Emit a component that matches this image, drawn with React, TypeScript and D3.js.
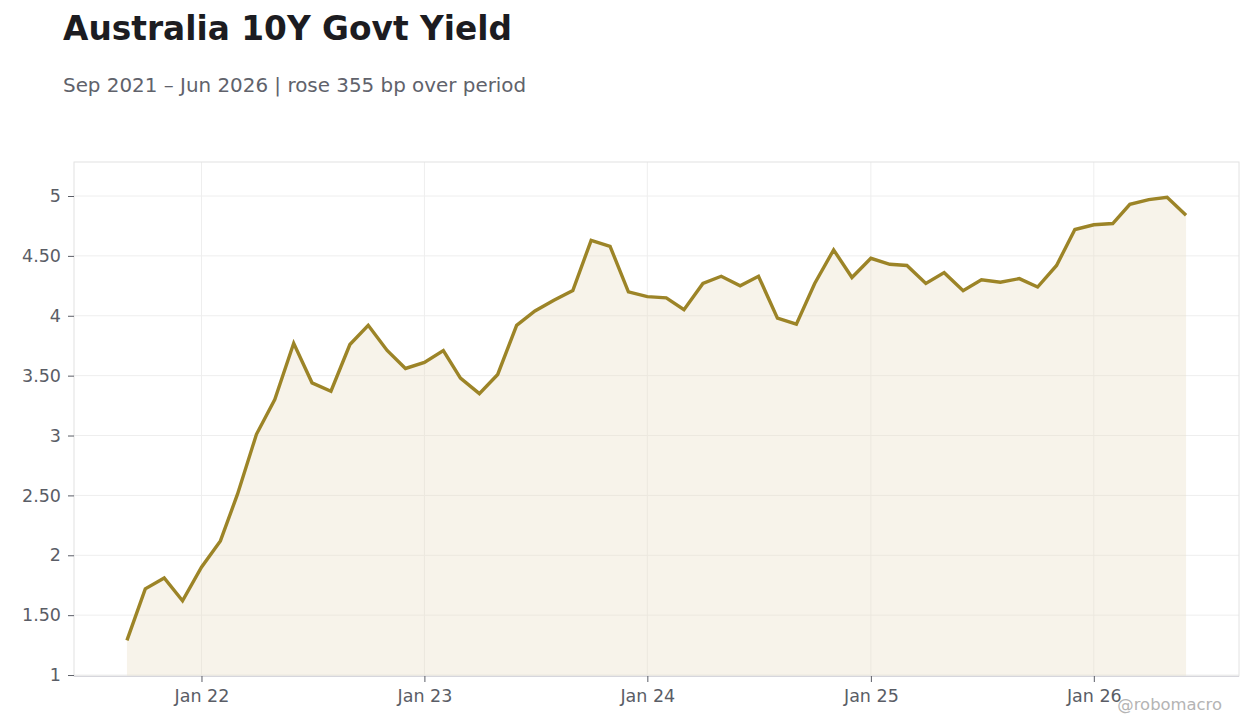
import * as d3 from "d3";
import { useEffect, useRef } from "react";

// monthly closes, Sep 2021 .. Jun 2026
const startMonth = "2021-09";
const yields = [
    1.29, 1.72, 1.81, 1.62, 1.90, 2.12, 2.51, 3.01, 3.30, 3.77, 3.44, 3.37,
    3.76, 3.92, 3.71, 3.56, 3.61, 3.71, 3.48, 3.35, 3.51, 3.92, 4.04, 4.13,
    4.21, 4.63, 4.58, 4.20, 4.16, 4.15, 4.05, 4.27, 4.33, 4.25, 4.33, 3.98,
    3.93, 4.27, 4.55, 4.32, 4.48, 4.43, 4.42, 4.27, 4.36, 4.21, 4.30, 4.28,
    4.31, 4.24, 4.42, 4.72, 4.76, 4.77, 4.93, 4.97, 4.99, 4.84,
];
const yTicks = [1, 1.5, 2, 2.5, 3, 3.5, 4, 4.5, 5];
const xTickLabels = ["Jan 22", "Jan 23", "Jan 24", "Jan 25", "Jan 26"];

const title = "Australia 10Y Govt Yield";
const subtitle = "Sep 2021 – Jun 2026 | rose 355 bp over period";
const credit = "@robomacro";

const FONT = "DejaVu Sans, sans-serif";
const LINE = "#9c8427";

export default function App() {
    const svgRef = useRef<SVGSVGElement | null>(null);

    useEffect(() => {
        if (!svgRef.current) return;
        const svg = d3.select(svgRef.current);
        svg.selectAll("*").remove();

        const totalW = 1260;
        const totalH = 728;
        const left = 74, right = 1239, top = 162, bottom = 676;

        const parseMonth = d3.timeParse("%Y-%m");
        const start = parseMonth(startMonth)!;
        const dates = yields.map((_, i) => d3.timeMonth.offset(start, i));
        const data = yields.map((v, i) => ({ date: dates[i], v }));

        const [d0, d1] = d3.extent(dates) as [Date, Date];
        const span = +d1 - +d0;
        const x = d3
            .scaleTime()
            .domain([new Date(+d0 - span * 0.05), new Date(+d1 + span * 0.05)])
            .range([left, right]);
        const y = d3.scaleLinear().domain([0.992, 5.284]).range([bottom, top]);

        svg.append("rect")
            .attr("width", totalW)
            .attr("height", totalH)
            .attr("fill", "#ffffff");

        // title block
        svg.append("text")
            .attr("x", 63)
            .attr("y", 40)
            .attr("font-family", FONT)
            .attr("font-weight", "bold")
            .attr("font-size", 32.8)
            .attr("fill", "#1c1c21")
            .text(title);
        svg.append("text")
            .attr("x", 63)
            .attr("y", 92)
            .attr("font-family", FONT)
            .attr("font-size", 19.9)
            .attr("fill", "#60626b")
            .text(subtitle);

        // grid
        const janTicks = d3.timeYear.range(new Date(2022, 0, 1), new Date(2026, 1, 1));
        svg.append("g")
            .selectAll("line")
            .data(yTicks)
            .join("line")
            .attr("x1", left)
            .attr("x2", right)
            .attr("y1", (d) => y(d))
            .attr("y2", (d) => y(d))
            .attr("stroke", "#eeeeee")
            .attr("stroke-width", 1);
        svg.append("g")
            .selectAll("line")
            .data(janTicks)
            .join("line")
            .attr("x1", (d) => x(d))
            .attr("x2", (d) => x(d))
            .attr("y1", top)
            .attr("y2", bottom)
            .attr("stroke", "#eeeeee")
            .attr("stroke-width", 1);

        // area + line
        const area = d3
            .area<{ date: Date; v: number }>()
            .x((d) => x(d.date))
            .y0(bottom)
            .y1((d) => y(d.v));
        svg.append("path")
            .datum(data)
            .attr("fill", "#e8dcc4")
            .attr("opacity", 0.35)
            .attr("d", area);

        const line = d3
            .line<{ date: Date; v: number }>()
            .x((d) => x(d.date))
            .y((d) => y(d.v));
        svg.append("path")
            .datum(data)
            .attr("fill", "none")
            .attr("stroke", LINE)
            .attr("stroke-width", 3.4)
            .attr("stroke-linejoin", "miter")
            .attr("d", line);

        // frame
        svg.append("rect")
            .attr("x", left)
            .attr("y", top)
            .attr("width", right - left)
            .attr("height", bottom - top)
            .attr("fill", "none")
            .attr("stroke", "#e2e2e2")
            .attr("stroke-width", 1);

        // axes
        const yAxis = svg
            .append("g")
            .attr("transform", `translate(${left},0)`)
            .call(
                d3.axisLeft(y)
                    .tickValues(yTicks)
                    .tickSize(6)
                    .tickPadding(7)
                    .tickFormat((d) => {
                        const n = +d;
                        return Number.isInteger(n) ? `${n}` : n.toFixed(2);
                    })
            );
        yAxis.select(".domain").remove();

        const xAxis = svg
            .append("g")
            .attr("transform", `translate(0,${bottom})`)
            .call(
                d3.axisBottom(x)
                    .tickValues(janTicks)
                    .tickSize(6)
                    .tickPadding(8)
                    .tickFormat((_, i) => xTickLabels[i])
            );
        xAxis.select(".domain").attr("stroke", "#d6d6dc").attr("d", `M${left},0.5H${right}`);

        svg.selectAll(".tick line").attr("stroke", "#5a5d66");
        svg.selectAll(".tick text")
            .attr("font-family", FONT)
            .attr("font-size", 17.5)
            .attr("fill", "#5a5d66");

        svg.append("text")
            .attr("x", 1222)
            .attr("y", 710)
            .attr("text-anchor", "end")
            .attr("font-family", FONT)
            .attr("font-size", 16.4)
            .attr("fill", "#b4b4b4")
            .text(credit);
    }, []);

    return (
        <svg
            ref={svgRef}
            width={1260}
            height={728}
            style={{ position: "absolute", left: 0, top: 0 }}
        />
    );
}
